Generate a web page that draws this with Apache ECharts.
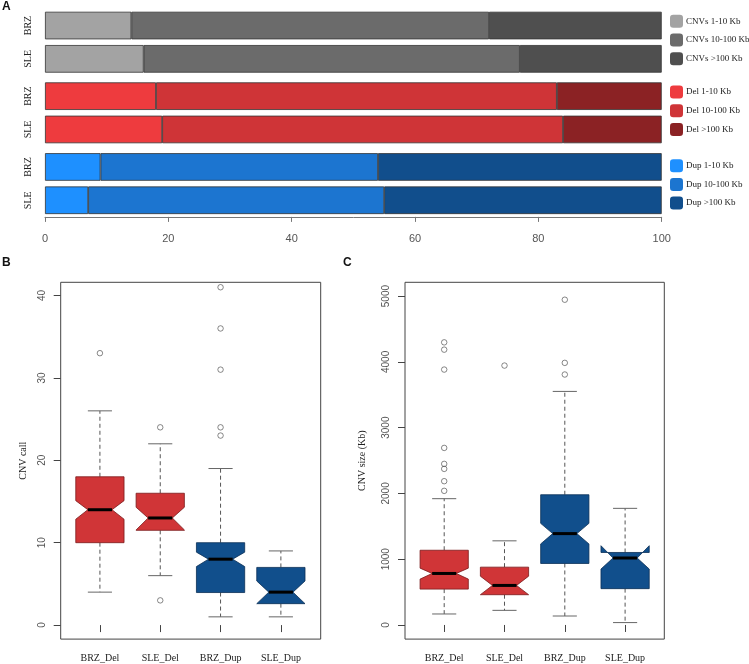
<!DOCTYPE html>
<html>
<head>
<meta charset="utf-8">
<script src="https://cdn.jsdelivr.net/npm/echarts@6/dist/echarts.min.js"></script>
<style>
html,body{margin:0;padding:0;background:#fff;}
#chart{width:749px;height:664px;}
</style>
</head>
<body>
<div id="chart"></div>
<script>
// ---------- Panel A data (percent) ----------
const samples = ['BRZ', 'SLE'];
const cnvSmall = [14, 16];
const cnvMid = [58, 61];
const cnvLarge = [28, 23];
const delSmall = [18, 19];
const delMid = [65, 65];
const delLarge = [17, 16];
const dupSmall = [9, 7];
const dupMid = [45, 48];
const dupLarge = [46, 45];
const pctTicks = [0, 20, 40, 60, 80, 100];

// ---------- Panel B / C data ----------
const groups = ['BRZ_Del', 'SLE_Del', 'BRZ_Dup', 'SLE_Dup'];
// CNV call (panel B)
const callLow = [4, 6, 1, 1];
const callQ1 = [10, 11.5, 3.95, 2.6];
const callNotchLow = [12.85, 11.55, 7.1, 2.6];
const callMedian = [14, 13, 8, 4];
const callNotchHigh = [15.1, 14.3, 8.85, 5.35];
const callQ3 = [18, 16, 10, 7];
const callHigh = [26, 22, 19, 9];
const callOutliers = [[33], [24, 3], [41, 36, 31, 24, 23], []];
const callTicks = [0, 10, 20, 30, 40];
// CNV size (panel C)
const sizeLow = [167, 222, 136, 36];
const sizeQ1 = [545, 460, 935, 552];
const sizeNotchLow = [697, 460, 1232, 850];
const sizeMedian = [783, 601, 1389, 1018];
const sizeNotchHigh = [864, 742, 1545, 1205];
const sizeQ3 = [1136, 879, 1980, 1102];
const sizeHigh = [1920, 1279, 3551, 1773];
const sizeOutliers = [[4297, 4186, 3883, 2692, 2449, 2373, 2186, 2039], [3944], [4945, 3985, 3808], []];
const sizeTicks = [0, 1000, 2000, 3000, 4000, 5000];

// ---------- styles ----------
const SERIF = 'Liberation Serif';
const SANS = 'Liberation Sans';
const boxFill = ['#d03537', '#d03537', '#114f8c', '#114f8c'];
const boxEdge = ['#7a1a1c', '#7a1a1c', '#0a2f55', '#0a2f55'];
const barColors = {
  cnv: ['#a3a3a3', '#6b6b6b', '#4f4f4f'],
  del: ['#ee3b3e', '#cf3437', '#8b2224'],
  dup: ['#1e90ff', '#1c75d0', '#114e8c']
};

function buildBox(low, q1, nl, med, nh, q3, high) {
  return groups.map((g, i) => [i + 1, low[i], q1[i], nl[i], med[i], nh[i], q3[i], high[i]]);
}
function buildOutliers(out) {
  const arr = [];
  out.forEach((vals, i) => vals.forEach(v => arr.push([i + 1, v])));
  return arr;
}

function renderBox(params, api) {
  const idx = params.dataIndex;
  const x = api.value(0);
  const lo = api.value(1), q1 = api.value(2), nl = api.value(3), med = api.value(4),
        nh = api.value(5), q3 = api.value(6), hi = api.value(7);
  const w = 0.4, nf = 0.5, cap = 0.2;
  const P = (dx, y) => api.coord([x + dx, y]);
  const poly = [P(-w, q1), P(w, q1), P(w, nl), P(nf * w, med), P(w, nh), P(w, q3),
                P(-w, q3), P(-w, nh), P(-nf * w, med), P(-w, nl)];
  const dashStyle = {stroke: '#555', lineWidth: 1, lineDash: [4, 3], fill: null};
  const capStyle = {stroke: '#666', lineWidth: 1, fill: null};
  const c = (a) => ({x1: a[0][0], y1: a[0][1], x2: a[1][0], y2: a[1][1]});
  return {
    type: 'group',
    children: [
      {type: 'line', shape: c([P(0, q3), P(0, hi)]), style: dashStyle},
      {type: 'line', shape: c([P(0, q1), P(0, lo)]), style: dashStyle},
      {type: 'line', shape: c([P(-cap, hi), P(cap, hi)]), style: capStyle},
      {type: 'line', shape: c([P(-cap, lo), P(cap, lo)]), style: capStyle},
      {type: 'polygon', shape: {points: poly}, style: {fill: boxFill[idx], stroke: boxEdge[idx], lineWidth: 0.8}},
      {type: 'line', shape: c([P(-nf * w, med), P(nf * w, med)]), style: {stroke: '#000', lineWidth: 3}}
    ]
  };
}

const chart = echarts.init(document.getElementById('chart'), null, {renderer: 'canvas'});

// grids: 0-2 panel A, 3 panel B, 4 panel C
const grids = [
  {left: 45, top: 8.9, width: 616.7, height: 66.6},
  {left: 45, top: 79.5, width: 616.7, height: 66.6},
  {left: 45, top: 150.3, width: 616.7, height: 66.6},
  {left: 60.7, top: 282.3, width: 260, height: 356.8, show: true, borderColor: '#444', borderWidth: 1},
  {left: 405, top: 282.3, width: 259.3, height: 356.8, show: true, borderColor: '#444', borderWidth: 1}
];

function pctAxis(i, showLabels) {
  return {
    type: 'value', gridIndex: i, min: 0, max: 100, interval: 20,
    axisLine: {show: showLabels, lineStyle: {color: '#777', width: 1}},
    axisTick: {show: showLabels, length: 5, lineStyle: {color: '#777'}},
    axisLabel: {show: showLabels, color: '#555', fontFamily: SANS, fontSize: 11, margin: 17},
    splitLine: {show: false}
  };
}
function sampleAxis(i) {
  return {
    type: 'category', gridIndex: i, data: samples, inverse: true,
    axisLine: {show: false}, axisTick: {show: false},
    axisLabel: {rotate: 90, fontFamily: SERIF, fontSize: 10, color: '#222', margin: 12}
  };
}
const plain = v => String(v);

const xAxes = [
  pctAxis(0, false), pctAxis(1, false), pctAxis(2, true),
  {
    type: 'value', gridIndex: 3, min: 0.35, max: 4.66,
    axisLine: {show: false},
    axisTick: {show: true, length: 7, customValues: [1, 2, 3, 4], lineStyle: {color: '#444'}},
    axisLabel: {customValues: [1, 2, 3, 4], formatter: v => groups[Math.round(v) - 1], fontFamily: SERIF, fontSize: 10, color: '#222', margin: 14},
    splitLine: {show: false}
  },
  {
    type: 'value', gridIndex: 4, min: 0.35, max: 4.65,
    axisLine: {show: false},
    axisTick: {show: true, length: 7, customValues: [1, 2, 3, 4], lineStyle: {color: '#444'}},
    axisLabel: {customValues: [1, 2, 3, 4], formatter: v => groups[Math.round(v) - 1], fontFamily: SERIF, fontSize: 10, color: '#222', margin: 14},
    splitLine: {show: false}
  }
];
const yAxes = [
  sampleAxis(0), sampleAxis(1), sampleAxis(2),
  {
    type: 'value', gridIndex: 3, min: -1.7, max: 41.6,
    name: 'CNV call', nameLocation: 'middle', nameGap: 32, nameRotate: 90,
    nameTextStyle: {fontFamily: SERIF, fontSize: 10, color: '#222'},
    axisLine: {show: false},
    axisTick: {show: true, length: 7, customValues: callTicks, lineStyle: {color: '#444'}},
    axisLabel: {customValues: callTicks, formatter: plain, rotate: 90, fontFamily: SANS, fontSize: 10, color: '#555', margin: 13},
    splitLine: {show: false}
  },
  {
    type: 'value', gridIndex: 4, min: -215, max: 5210,
    name: 'CNV size (Kb)', nameLocation: 'middle', nameGap: 38, nameRotate: 90,
    nameTextStyle: {fontFamily: SERIF, fontSize: 10, color: '#222'},
    axisLine: {show: false},
    axisTick: {show: true, length: 7, customValues: sizeTicks, lineStyle: {color: '#444'}},
    axisLabel: {customValues: sizeTicks, formatter: plain, rotate: 90, fontFamily: SANS, fontSize: 10, color: '#555', margin: 14},
    splitLine: {show: false}
  }
];

function barSeries(name, data, gi, stack, color) {
  return {
    type: 'bar', name: name, data: data, xAxisIndex: gi, yAxisIndex: gi, stack: stack,
    barWidth: 27.6,
    itemStyle: {color: color, borderColor: '#333', borderWidth: 0.8},
    emphasis: {disabled: true}
  };
}

const cnvNames = ['CNVs 1-10 Kb', 'CNVs 10-100 Kb', 'CNVs >100 Kb'];
const delNames = ['Del 1-10 Kb', 'Del 10-100 Kb', 'Del >100 Kb'];
const dupNames = ['Dup 1-10 Kb', 'Dup 10-100 Kb', 'Dup >100 Kb'];

const series = [
  barSeries(cnvNames[0], cnvSmall, 0, 'cnv', barColors.cnv[0]),
  barSeries(cnvNames[1], cnvMid, 0, 'cnv', barColors.cnv[1]),
  barSeries(cnvNames[2], cnvLarge, 0, 'cnv', barColors.cnv[2]),
  barSeries(delNames[0], delSmall, 1, 'del', barColors.del[0]),
  barSeries(delNames[1], delMid, 1, 'del', barColors.del[1]),
  barSeries(delNames[2], delLarge, 1, 'del', barColors.del[2]),
  barSeries(dupNames[0], dupSmall, 2, 'dup', barColors.dup[0]),
  barSeries(dupNames[1], dupMid, 2, 'dup', barColors.dup[1]),
  barSeries(dupNames[2], dupLarge, 2, 'dup', barColors.dup[2]),
  {
    type: 'custom', name: 'callBox', xAxisIndex: 3, yAxisIndex: 3,
    renderItem: renderBox, encode: {x: 0, y: [1, 2, 3, 4, 5, 6, 7]},
    data: buildBox(callLow, callQ1, callNotchLow, callMedian, callNotchHigh, callQ3, callHigh)
  },
  {
    type: 'scatter', name: 'callOut', xAxisIndex: 3, yAxisIndex: 3,
    symbol: 'circle', symbolSize: 5.5,
    itemStyle: {color: 'rgba(255,255,255,0)', borderColor: '#444', borderWidth: 0.8},
    data: buildOutliers(callOutliers)
  },
  {
    type: 'custom', name: 'sizeBox', xAxisIndex: 4, yAxisIndex: 4,
    renderItem: renderBox, encode: {x: 0, y: [1, 2, 3, 4, 5, 6, 7]},
    data: buildBox(sizeLow, sizeQ1, sizeNotchLow, sizeMedian, sizeNotchHigh, sizeQ3, sizeHigh)
  },
  {
    type: 'scatter', name: 'sizeOut', xAxisIndex: 4, yAxisIndex: 4,
    symbol: 'circle', symbolSize: 5.5,
    itemStyle: {color: 'rgba(255,255,255,0)', borderColor: '#444', borderWidth: 0.8},
    data: buildOutliers(sizeOutliers)
  }
];

function legendAt(top, names) {
  return {
    orient: 'vertical', left: 670, top: top, padding: 0,
    itemWidth: 13, itemHeight: 13, itemGap: 5.7, icon: 'roundRect',
    selectedMode: false,
    itemStyle: {borderWidth: 0},
    textStyle: {fontFamily: SERIF, fontSize: 9, color: '#222', padding: [0, 0, 0, -2], lineHeight: 13},
    data: names
  };
}

const titleStyle = {fontFamily: SANS, fontSize: 12, fontWeight: 'bold', color: '#111'};

chart.setOption({
  animation: false,
  backgroundColor: '#fff',
  title: [
    {text: 'A', left: 2, top: 1, padding: 0, textStyle: titleStyle},
    {text: 'B', left: 2, top: 257, padding: 0, textStyle: titleStyle},
    {text: 'C', left: 343, top: 257, padding: 0, textStyle: titleStyle}
  ],
  legend: [legendAt(14.8, cnvNames), legendAt(85.5, delNames), legendAt(159.2, dupNames)],
  grid: grids,
  xAxis: xAxes,
  yAxis: yAxes,
  series: series
});
</script>
</body>
</html>
